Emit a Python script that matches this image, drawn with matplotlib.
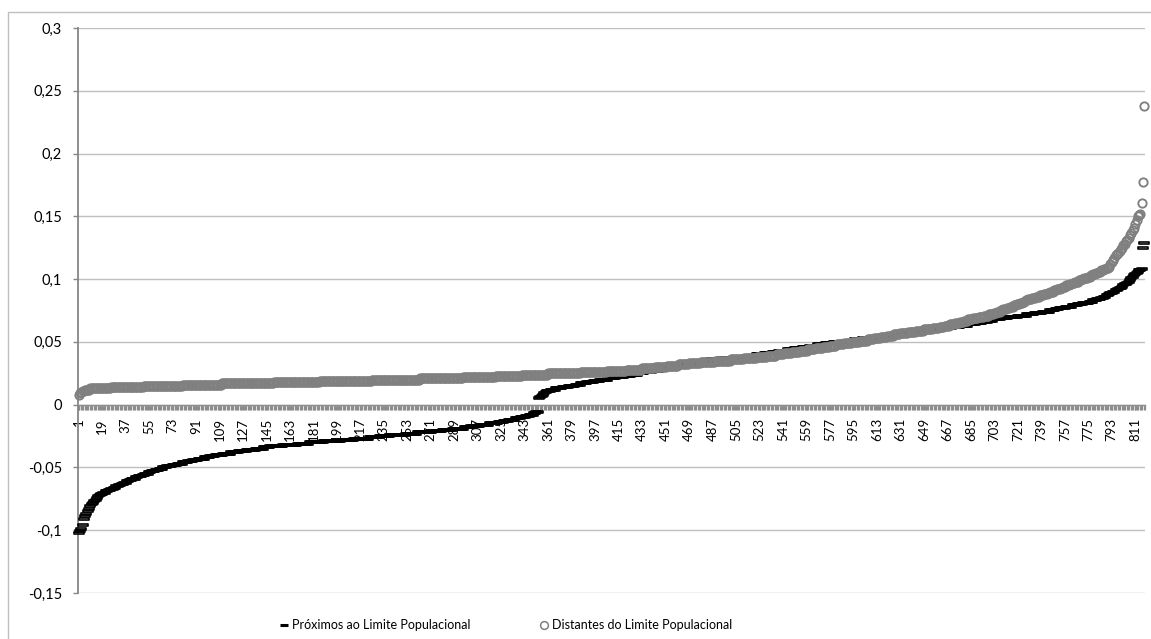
import matplotlib
matplotlib.use("Agg")
import matplotlib.pyplot as plt
from matplotlib.path import Path
from matplotlib.lines import Line2D
from matplotlib.patches import Rectangle
import numpy as np

plt.rcParams['font.family'] = ['Lato', 'DejaVu Sans']

# Values in thousandths, one per category 1..818
proximos_mil = [
    -102, -101, -99, -96, -91, -89, -87, -85, -83, -81, -79, -78, -77, -76, -74, -73, -72, -71, -71, -70,
    -70, -69, -69, -68, -68, -67, -67, -66, -66, -65, -65, -64, -64,
    -63, -63, -62, -62, -61, -61, -60, -60, -59, -59, -59, -58, -58,
    -57, -57, -57, -56, -56, -55, -55, -55, -54, -54, -53, -53,
    -53, -52, -52, -52, -51, -51, -51, -50, -50, -50, -49, -49, -49,
    -49, -48, -48, -48, -48, -47, -47, -47, -47, -46, -46, -46, -46,
    -45, -45, -45, -45, -44, -44, -44, -44, -43, -43, -43, -43,
    -43, -42, -42, -42, -42, -41, -41, -41, -41, -40, -40, -40, -40,
    -40, -40, -39, -39, -39, -39, -39, -39, -38, -38, -38, -38, -38,
    -38, -37, -37, -37, -37, -37, -37, -36, -36, -36, -36, -36, -36,
    -36, -35, -35, -35, -35, -35, -35, -34, -34, -34, -34, -34, -33,
    -33, -33, -33, -33, -33, -33, -33, -33, -33, -32, -32, -32, -32, -32, -32, -32, -32,
    -32, -32, -32, -31, -31, -31, -31, -31, -31, -31, -31, -31,
    -30, -30, -30, -30, -30, -30, -30, -30, -30, -30, -30, -29, -29, -29,
    -29, -29, -29, -29, -29, -29, -29, -29, -29, -29,
    -28, -28, -28, -28, -28, -28, -28, -28, -28, -28,
    -27, -27, -27, -27, -27, -27,
    -27, -27, -27, -27, -27, -27,
    -26, -26, -26, -26, -26, -26, -26, -26,
    -25, -25, -25, -25, -25, -25, -25, -25,
    -24, -24, -24,
    -24, -24, -24, -24, -24, -24, -24, -24, -24,
    -23, -23, -23, -23, -23, -23, -23, -23, -23,
    -22, -22, -22, -22, -22, -22, -22, -22,
    -22, -22, -22,
    -21, -21, -21, -21, -21, -21, -21, -21,
    -20, -20, -20, -20, -20, -20, -20, -20,
    -19, -19, -19, -19, -19, -19,
    -19, -19, -19,
    -18, -18, -18, -18, -18,
    -17, -17, -17, -17, -17,
    -17, -17,
    -16, -16, -16, -16, -16, -16, -16,
    -15, -15, -15, -15, -15, -15,
    -15, -14, -14, -14, -14, -13, -13, -13, -13, -12, -12, -12, -12, -12, -11,
    -11, -11, -11, -10, -10, -10, -10, -9, -9, -9,
    -8, -8, -8, -7, -7, -6, -6,
    5, 6, 7, 8, 9, 10, 11,
    11, 11, 12, 12, 12, 12, 13, 13, 13, 13, 13, 14,
    14, 14, 14, 14, 15, 15, 15, 15, 15, 16, 16, 16, 16,
    17, 17, 17, 17, 17, 18, 18, 18, 18, 18, 19, 19, 19,
    19, 19, 20, 20, 20, 20, 20, 20, 21, 21, 21, 21,
    21, 21, 22, 22, 22, 22, 22, 22, 23, 23, 23, 23, 23,
    23, 24, 24, 24, 24, 24, 25, 25, 25, 25, 25, 26, 26, 26, 26, 26, 26,
    27, 27, 27, 27, 27, 28, 28, 28, 28, 28, 29, 29, 29, 29, 29, 30, 30, 30, 30, 30,
    31, 31, 31, 31, 32, 32, 32, 32, 33, 33, 33, 33, 34, 34, 34, 34, 35, 35, 35, 35,
    35, 35, 35, 35, 35, 36, 36, 36, 36, 36, 36, 36, 36, 37, 37, 37, 37, 37, 37, 37,
    37, 37, 37, 37, 37, 38, 38, 38, 38, 38, 38, 38, 39, 39, 39, 39, 39, 39, 39, 39,
    40, 40, 40, 40, 40, 40, 41, 41, 41, 41, 41, 41, 42, 42, 42, 42, 42, 43, 43, 43, 43,
    43, 43, 43, 44, 44, 44, 44, 44, 45, 45, 45, 45, 45, 45, 46, 46, 46, 46, 46, 46,
    47, 47, 47, 47, 47, 47, 48, 48, 48, 48, 48, 48, 49, 49, 49, 49, 49, 49, 50, 50, 50, 50, 50,
    50, 50, 50, 50, 51, 51, 51, 51, 51, 51, 51, 52, 52, 52, 52, 52, 52, 53, 53, 53, 53,
    53, 53, 53, 53, 53, 54, 54, 54, 54, 54, 54, 55, 55, 55, 55, 55, 55, 55, 56, 56, 56, 56, 56, 56, 56,
    57, 57, 57, 57, 57, 57, 57, 57, 58, 58, 58, 58, 58, 58, 58, 58, 58, 59, 59, 59, 59, 59, 59, 59, 59,
    59, 59, 59, 60, 60, 60, 60, 60, 60, 61, 61, 61, 61, 61, 61, 62, 62, 62, 62, 62, 62,
    63, 63, 63, 63, 63, 63, 64, 64, 64, 64, 64, 64, 65, 65, 65, 65, 65, 66, 66, 66, 66, 67, 67, 67, 67,
    68, 68, 68, 68, 68, 68, 69, 69, 69, 69, 69, 69, 70, 70, 70, 70, 70, 70, 70, 71, 71, 71, 71, 71, 71, 71,
    72, 72, 72, 72, 72, 72, 73, 73, 73, 73, 73, 73, 74, 74, 74, 74, 74, 74, 75, 75, 75, 75, 76, 76, 76,
    77, 77, 77, 77, 77, 78, 78, 78, 78, 78, 79, 79, 79, 79, 80, 80, 80, 80, 81, 81, 81,
    81, 81, 82, 82, 82, 83, 83, 83, 84, 84, 84, 85, 85, 86, 86, 87, 87, 88,
    89, 89, 90, 90, 91, 91, 92, 93, 93, 94,
    95, 96, 96, 97, 98, 99, 101,
    102, 103, 104, 105, 106, 107, 107,
    108, 125, 129,
]

distantes_mil = [
    8, 9, 10, 11, 11, 12, 12, 12, 12, 13,
    13, 13, 13, 13, 13, 13, 13, 13, 13, 13, 13, 13, 13, 13, 13,
    14, 14, 14, 14, 14, 14, 14, 14, 14, 14, 14, 14, 14, 14, 14, 14, 14, 14, 14, 14, 14, 14, 14, 14, 14,
    15, 15, 15, 15, 15, 15, 15, 15, 15, 15, 15, 15, 15, 15, 15, 15, 15, 15, 15, 15, 15, 15, 15, 15, 15, 15, 15, 15, 15, 15,
    16, 16, 16, 16, 16, 16, 16, 16, 16, 16, 16, 16, 16, 16, 16, 16, 16, 16, 16, 16, 16, 16, 16, 16, 16, 16, 16, 16, 16, 16,
    17, 17, 17, 17, 17, 17, 17, 17, 17, 17, 17, 17, 17, 17, 17, 17, 17, 17, 17, 17,
    17, 17, 17, 17, 17, 17, 17, 17, 17, 17, 17, 17, 17, 17, 17, 17, 17, 17, 17, 17,
    18, 18, 18, 18, 18, 18, 18, 18, 18, 18, 18, 18, 18, 18, 18, 18, 18, 18, 18, 18,
    18, 18, 18, 18, 18, 18, 18, 18, 18, 18, 18, 18, 18, 18, 18,
    19, 19, 19, 19, 19, 19, 19, 19, 19, 19, 19, 19, 19, 19, 19, 19, 19, 19, 19, 19,
    19, 19, 19, 19, 19, 19, 19, 19, 19, 19, 19, 19, 19, 19, 19, 19, 19, 19, 19, 19,
    20, 20, 20, 20, 20, 20, 20, 20, 20, 20, 20, 20, 20, 20, 20, 20, 20, 20, 20, 20,
    20, 20, 20, 20, 20, 20, 20, 20, 20, 20, 20, 20, 20, 20, 20, 20, 20,
    21, 21, 21, 21, 21, 21, 21, 21, 21, 21, 21, 21, 21, 21, 21, 21, 21, 21, 21, 21,
    21, 21, 21, 21, 21, 21, 21, 21, 21, 21, 21, 21, 21,
    22, 22, 22, 22, 22, 22, 22, 22, 22, 22, 22, 22, 22, 22, 22, 22, 22, 22, 22, 22, 22, 22, 22, 22, 22,
    23, 23, 23, 23, 23, 23, 23, 23, 23, 23, 23, 23, 23, 23, 23, 23, 23, 23, 23, 23,
    24, 24, 24, 24, 24, 24, 24, 24, 24, 24, 24, 24, 24, 24, 24, 24, 24, 24, 24, 24,
    25, 25, 25, 25, 25, 25, 25, 25, 25, 25, 25, 25, 25, 25, 25, 25, 25, 25, 25, 25, 25, 25, 25, 25, 25,
    26, 26, 26, 26, 26, 26, 26, 26, 26, 26, 26, 26, 26, 26, 26, 26, 26, 26, 26, 26,
    27, 27, 27, 27, 27, 27, 27, 27, 27, 27, 27, 27, 27, 27, 27,
    28, 28, 28, 28, 28, 28, 28, 28, 28, 28, 28, 28,
    29, 29, 29, 29, 29, 29, 29, 29, 29, 29,
    30, 30, 30, 30, 30, 30, 30, 30, 30,
    31, 31, 31, 31, 31, 31, 31, 31, 31,
    32, 32, 32, 32, 32, 32, 32, 32,
    33, 33, 33, 33, 33, 33, 33, 33, 33,
    34, 34, 34, 34, 34, 34, 34, 34, 34, 34, 34,
    35, 35, 35, 35, 35, 35, 35, 35, 35, 35, 35, 35,
    36, 36, 36, 36, 36, 36, 36, 36, 36, 36,
    37, 37, 37, 37, 37, 37, 37, 37, 37, 37,
    38, 38, 38, 38, 38, 38, 38, 38,
    39, 39, 39, 39, 39, 39, 39,
    40, 40, 40, 40, 40, 40, 41, 41, 41, 41, 41, 41, 42, 42, 42, 42, 42, 42,
    43, 43, 43, 43, 43, 43, 44, 44, 44, 44, 44, 44, 45, 45, 45, 45, 45, 45,
    46, 46, 46, 46, 46, 47, 47, 47, 47, 47,
    48, 48, 48, 48, 48, 48, 49, 49, 49, 49, 49, 49, 50, 50, 50, 50, 50, 50, 51, 51, 51, 51, 51, 51,
    52, 52, 52, 52, 52, 53, 53, 53, 53, 53, 54, 54, 54, 54, 54, 55, 55, 55, 55, 55, 56, 56, 56, 56, 56,
    57, 57, 57, 57, 57, 57, 58, 58, 58, 58, 58, 58, 59, 59, 59, 59, 59, 59,
    60, 60, 60, 60, 60, 60, 60,
    61, 61, 61, 61, 61,
    62, 62, 62, 62, 63, 63, 63, 63, 64, 64, 64, 64, 65, 65, 65, 65,
    66, 66, 66, 67, 67, 67,
    68, 68, 68, 68, 69, 69, 69, 69, 70, 70, 70, 70, 71, 71, 71, 71, 72, 72, 72, 72,
    73, 73, 74, 74, 74, 75, 75, 76, 76, 76, 77, 77, 78, 78, 78, 79, 79, 80, 80, 80, 81, 81, 82, 82, 83, 83,
    84, 84, 84, 85, 85, 85, 86, 86, 86, 87, 87, 87, 88, 88, 88, 89, 89, 90, 90, 90, 91, 91, 92, 92, 92,
    93, 93, 94, 94, 95, 95, 95, 96, 96, 97, 97, 98, 98, 98, 99, 99, 100, 100, 101, 101, 101,
    102, 102, 103, 103, 104, 104, 105, 105, 106, 106, 107, 107,
    108, 108, 109, 109, 110,
    112, 114, 115, 117, 119,
    120, 121, 122, 124, 125,
    127, 128, 130, 131, 133,
    135, 137, 139, 141,
    144, 147, 150, 151, 152,
    161, 177, 238,
]

nome_proximos = "Próximos ao Limite Populacional"
nome_distantes = "Distantes do Limite Populacional"
y_ticks = [-0.15, -0.1, -0.05, 0.0, 0.05, 0.1, 0.15, 0.2, 0.25, 0.3]
y_tick_labels = ["-0,15", "-0,1", "-0,05", "0", "0,05", "0,1", "0,15", "0,2", "0,25", "0,3"]
passo_rotulo = 18

prox = np.array(proximos_mil, dtype=float) / 1000.0
dist = np.array(distantes_mil, dtype=float) / 1000.0
n = max(len(prox), len(dist))
categorias = np.arange(1, n + 1)

W, H = 1151, 639
fig = plt.figure(figsize=(W / 100, H / 100), dpi=100)
L, R, T, B = 78, 1145, 28, 593
ax = fig.add_axes([L / W, 1 - B / H, (R - L) / W, (B - T) / H])

dash = Path([(-1, -0.28), (1, -0.28), (1, 0.28), (-1, 0.28), (-1, -0.28)],
            [Path.MOVETO, Path.LINETO, Path.LINETO, Path.LINETO, Path.CLOSEPOLY])

ax.plot(np.arange(1, len(prox) + 1), prox, linestyle='none', marker=dash,
        markersize=7.0, markerfacecolor='none', markeredgecolor='black',
        markeredgewidth=1.2, clip_on=False, zorder=3)
ax.plot(np.arange(1, len(dist) + 1), dist, linestyle='none', marker='o',
        markersize=6.0, markerfacecolor='none', markeredgecolor='#808080',
        markeredgewidth=1.35, clip_on=False, zorder=4)

ax.set_xlim(0.5, n + 0.5)
ax.set_ylim(-0.15, 0.3)
for s in ['top', 'right']:
    ax.spines[s].set_visible(False)
ax.spines['bottom'].set_position(('data', 0))
ax.spines['bottom'].set_color('#8C8C8C')
ax.spines['bottom'].set_linewidth(1.0)
ax.spines['left'].set_color('#868686')
ax.spines['left'].set_linewidth(1.3)

ax.set_yticks(y_ticks)
ax.set_yticklabels(y_tick_labels, fontsize=10.5)
ax.yaxis.grid(True, color='#BFBFBF', linewidth=1.0)
ax.set_axisbelow(True)
ax.tick_params(axis='y', direction='out', length=3.6, width=1.0, color='#868686', pad=8)

rot = categorias[::passo_rotulo]
ax.set_xticks(rot)
ax.set_xticklabels([str(c) for c in rot], rotation=90, fontsize=9.5)
ax.set_xticks(np.arange(0.5, n + 1, 1.0), minor=True)
ax.tick_params(axis='x', which='both', direction='out', length=3.6, width=0.9,
               color='#8C8C8C', pad=6)

h1 = Line2D([], [], linestyle='none', marker='_', markersize=6, markeredgewidth=2.2, color='black')
h2 = Line2D([], [], linestyle='none', marker='o', markersize=5.6, markerfacecolor='none',
            markeredgecolor='#808080', markeredgewidth=1.1)
fig.legend([h1, h2], [nome_proximos, nome_distantes], loc='center',
           bbox_to_anchor=(506 / W, 1 - 625 / H), ncol=2, frameon=False, fontsize=9,
           handlelength=0.7, handletextpad=0.3, columnspacing=5.5)

fig.add_artist(Rectangle((8 / W, -0.5), 2, (1 - 12 / H) + 0.5, transform=fig.transFigure,
                         fill=False, edgecolor='#BFBFBF', linewidth=1.0))

fig.savefig('out.png', dpi=100)
